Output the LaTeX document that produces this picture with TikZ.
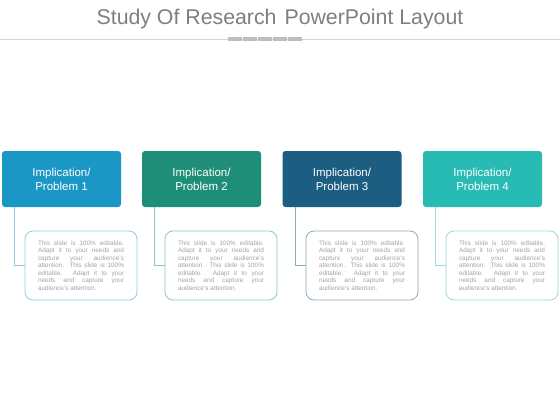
\documentclass[tikz,border=0pt]{standalone}
\usepackage{fontspec}
\setmainfont{Liberation Sans}
\definecolor{cone}{HTML}{1B97C6}
\definecolor{ctwo}{HTML}{1E8E78}
\definecolor{cthree}{HTML}{1B5E82}
\definecolor{cfour}{HTML}{27BBB3}
\definecolor{lone}{HTML}{8FCBE0}
\definecolor{ltwo}{HTML}{8FC7BB}
\definecolor{lthree}{HTML}{8DAABD}
\definecolor{lfour}{HTML}{97DAD6}
\definecolor{titlegrey}{HTML}{7F7F7F}
\definecolor{rulegrey}{HTML}{D4D4D4}
\definecolor{dashgrey}{HTML}{BDBDBD}
\definecolor{bodygrey}{HTML}{A4A4A4}
\newcommand{\myline}[1]{\makebox[86pt][s]{#1}\\}
\newcommand{\bodytext}{\parbox{86pt}{\fontsize{6.4}{7.5}\selectfont\color{bodygrey}%
\myline{This slide is 100\% editable.}
\myline{Adapt it to your needs and}
\myline{capture your audience's}
\myline{attention. This slide is 100\%}
\myline{editable. Adapt it to your}
\myline{needs and capture your}
audience's attention.}}
\tikzset{
  probbox/.style={rectangle, rounded corners=3pt, minimum width=119pt, minimum height=56pt, inner sep=0pt, text=white, align=center, font=\fontsize{11.5}{14}\selectfont},
  textbox/.style={rectangle, rounded corners=8pt, minimum width=112pt, minimum height=69pt, inner sep=0pt, line width=0.8pt, fill=white},
  link/.style={line width=0.8pt}
}
\begin{document}
\begin{tikzpicture}[x=1pt,y=-1pt]
\useasboundingbox (0,0) rectangle (560,420);
\fill[white] (0,0) rectangle (560,420);
\node[text=titlegrey, font=\fontsize{21.3}{25}\selectfont, inner sep=0pt] (title) at (280,18.5) {Study Of Research\hspace{8pt}PowerPoint Layout};
\draw[rulegrey, line width=0.8pt] (0,39.5) coordinate (rl) -- (560,39.5) coordinate (rr);
\foreach \i in {0,...,4}{
  \fill[dashgrey] (228+\i*15,37.5) rectangle ++(14,4);
}
\node[probbox, fill=cone] (p1) at (61.5,179) {Implication/\\Problem 1};
\node[probbox, fill=ctwo] (p2) at (201.5,179) {Implication/\\Problem 2};
\node[probbox, fill=cthree] (p3) at (342,179) {Implication/\\Problem 3};
\node[probbox, fill=cfour] (p4) at (482.5,179) {Implication/\\Problem 4};
\node[textbox, draw=lone] (t1) at (81,265.5) {\bodytext};
\node[textbox, draw=ltwo] (t2) at (221,265.5) {\bodytext};
\node[textbox, draw=lthree] (t3) at (362,265.5) {\bodytext};
\node[textbox, draw=lfour] (t4) at (502,265.5) {\bodytext};
\draw[link, draw=lone] ([xshift=13pt]p1.south west) |- (t1.west);
\draw[link, draw=ltwo] ([xshift=13pt]p2.south west) |- (t2.west);
\draw[link, draw=lthree] ([xshift=13pt]p3.south west) |- (t3.west);
\draw[link, draw=lfour] ([xshift=13pt]p4.south west) |- (t4.west);
\end{tikzpicture}
\end{document}
